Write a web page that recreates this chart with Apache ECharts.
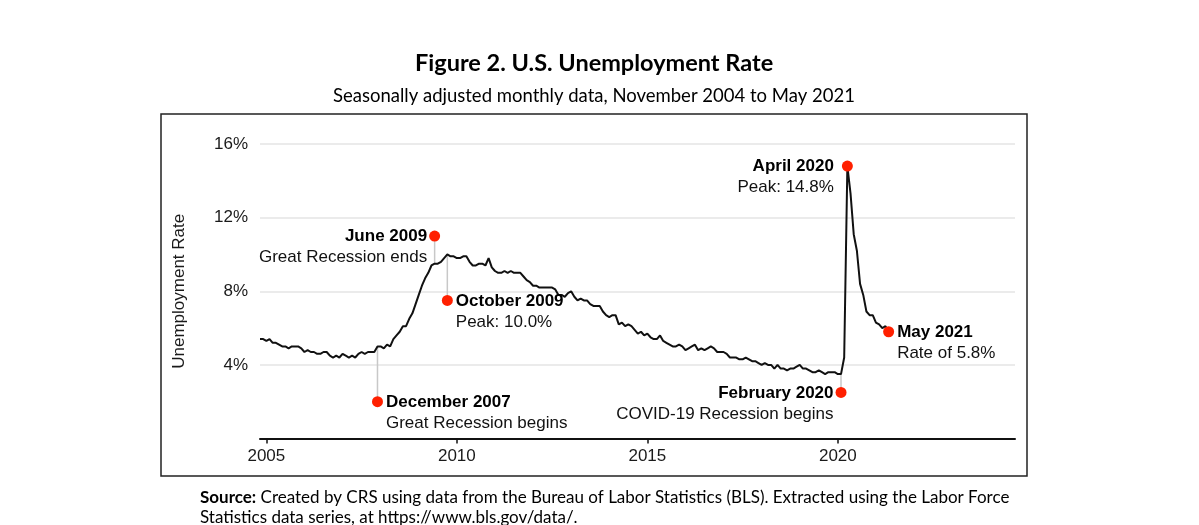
<!DOCTYPE html>
<html>
<head>
<meta charset="utf-8">
<title>U.S. Unemployment Rate</title>
<script src="https://cdn.jsdelivr.net/npm/echarts@6/dist/echarts.min.js"></script>
<style>
  html, body { margin: 0; padding: 0; background: #fff; }
  #chart { width: 1199px; height: 525px; }
</style>
</head>
<body>
<div id="chart"></div>
<script>
// monthly series starts November 2004
const startYear = 2004
const startMonth = 11
const unemploymentRate = [
  5.4, 5.4,
  5.3, 5.4, 5.2, 5.2, 5.1, 5.0, 5.0, 4.9, 5.0, 5.0, 5.0, 4.9,
  4.7, 4.8, 4.7, 4.7, 4.6, 4.6, 4.7, 4.7, 4.5, 4.4, 4.5, 4.4,
  4.6, 4.5, 4.4, 4.5, 4.4, 4.6, 4.7, 4.6, 4.7, 4.7, 4.7, 5.0,
  5.0, 4.9, 5.1, 5.0, 5.4, 5.6, 5.8, 6.1, 6.1, 6.5, 6.8, 7.3,
  7.8, 8.3, 8.7, 9.0, 9.4, 9.5, 9.5, 9.6, 9.8, 10.0, 9.9, 9.9,
  9.8, 9.8, 9.9, 9.9, 9.6, 9.4, 9.4, 9.5, 9.5, 9.4, 9.8, 9.3,
  9.1, 9.0, 9.0, 9.1, 9.0, 9.1, 9.0, 9.0, 9.0, 8.8, 8.6, 8.5,
  8.3, 8.3, 8.2, 8.2, 8.2, 8.2, 8.2, 8.1, 7.8, 7.8, 7.7, 7.9,
  8.0, 7.7, 7.5, 7.6, 7.5, 7.5, 7.3, 7.2, 7.2, 7.2, 6.9, 6.7,
  6.6, 6.7, 6.7, 6.2, 6.3, 6.1, 6.2, 6.1, 5.9, 5.7, 5.8, 5.6,
  5.7, 5.5, 5.4, 5.4, 5.6, 5.3, 5.2, 5.1, 5.0, 5.0, 5.1, 5.0,
  4.8, 4.9, 5.0, 5.1, 4.8, 4.9, 4.8, 4.9, 5.0, 4.9, 4.7, 4.7,
  4.7, 4.6, 4.4, 4.4, 4.4, 4.3, 4.3, 4.4, 4.3, 4.2, 4.2, 4.1,
  4.0, 4.1, 4.0, 4.0, 3.8, 4.0, 3.8, 3.8, 3.7, 3.8, 3.8, 3.9,
  4.0, 3.8, 3.8, 3.7, 3.6, 3.6, 3.7, 3.6, 3.5, 3.6, 3.6, 3.6,
  3.5, 3.5, 4.4, 14.8, 13.3, 11.1, 10.2, 8.4, 7.8, 6.9, 6.7, 6.7,
  6.3, 6.2, 6.0, 6.1, 5.8
]

const yearTicks = [2005, 2010, 2015, 2020]
const rateTicks = [4, 8, 12, 16]

// annotated months: [year, month]
const noteDates = [[2007, 12], [2009, 6], [2009, 10], [2020, 2], [2020, 4], [2021, 5]]
const noteDotValues = [2.0, 11.0, 7.5, 2.5, 14.8, 5.8]
const noteTitles = ['December 2007', 'June 2009', 'October 2009', 'February 2020', 'April 2020', 'May 2021']
const noteTexts = ['Great Recession begins', 'Great Recession ends', 'Peak: 10.0%', 'COVID-19 Recession begins', 'Peak: 14.8%', 'Rate of 5.8%']

// which side of the dot each note sits on
const noteSide = ['right', 'left', 'right', 'left', 'left', 'right']
const noteGap = [3, 2, 3, 2, 8, 3]

const FONT = '"Liberation Sans", Arial, sans-serif'
const TITLE_FONT = 'Lato, "Open Sans", sans-serif'

function toYear(y, m) {
  return y + (m - 1) / 12
}

function rateAt(y, m) {
  let idx = (y - startYear) * 12 + (m - startMonth)
  return unemploymentRate[idx]
}

let lineData = unemploymentRate.map((v, i) => {
  let k = startMonth - 1 + i
  return [startYear + k / 12, v]
})

// grey leader lines between the curve and the dots
let leaders = []
noteDates.forEach((d, i) => {
  let r = rateAt(d[0], d[1])
  if (Math.abs(r - noteDotValues[i]) > 0.05) {
    leaders.push({
      type: 'line',
      silent: true,
      symbol: 'none',
      z: 1,
      lineStyle: {color: '#c8c8c8', width: 1.5},
      data: [[toYear(d[0], d[1]), r], [toYear(d[0], d[1]), noteDotValues[i]]]
    })
  }
})

let dots = noteDates.map((d, i) => {
  let left = noteSide[i] === 'left'
  return {
    value: [toYear(d[0], d[1]), noteDotValues[i]],
    label: {
      show: true,
      position: noteSide[i],
      distance: noteGap[i],
      offset: [0, 11],
      align: left ? 'right' : 'left',
      color: '#000',
      opacity: 1,
      textBorderWidth: 0,
      formatter: '{t|' + noteTitles[i] + '}\n{n|' + noteTexts[i] + '}',
      rich: {
        t: {fontFamily: FONT, fontSize: 17, fontWeight: 'bold', color: '#000', lineHeight: 21, align: left ? 'right' : 'left'},
        n: {fontFamily: FONT, fontSize: 17, color: '#111', lineHeight: 21, align: left ? 'right' : 'left'}
      }
    }
  }
})

let chart = echarts.init(document.getElementById('chart'))

let option = {
  animation: false,
  backgroundColor: '#fff',
  title: [
    {
      text: 'Figure 2. U.S. Unemployment Rate',
      left: 410,
      top: 46,
      textStyle: {fontFamily: TITLE_FONT, fontSize: 23.5, fontWeight: 'bold', color: '#000'}
    },
    {
      text: 'Seasonally adjusted monthly data, November 2004 to May 2021',
      left: 328,
      top: 82,
      textStyle: {fontFamily: TITLE_FONT, fontSize: 18.5, fontWeight: 'normal', color: '#000'}
    }
  ],
  graphic: [
    {
      type: 'rect',
      silent: true,
      shape: {x: 161, y: 114, width: 866, height: 362},
      style: {fill: 'none', stroke: '#222', lineWidth: 1.5}
    },
    {
      type: 'text',
      left: 200,
      top: 488,
      silent: true,
      style: {
        text: '{b|Source:} Created by CRS using data from the Bureau of Labor Statistics (BLS). Extracted using the Labor Force\nStatistics data series, at https://www.bls.gov/data/.',
        fontFamily: TITLE_FONT,
        fontSize: 17,
        lineHeight: 20,
        fill: '#000',
        rich: {
          b: {fontFamily: TITLE_FONT, fontSize: 17, fontWeight: 'bold', fill: '#000', lineHeight: 20}
        }
      }
    }
  ],
  grid: {left: 260, right: 184, top: 144, bottom: 86.5},
  xAxis: {
    type: 'value',
    min: 2004.833,
    max: 2024.65,
    splitLine: {show: false},
    axisLine: {show: true, lineStyle: {color: '#111', width: 2}},
    axisTick: {show: true, customValues: yearTicks, length: 5, lineStyle: {color: '#111', width: 1.5}},
    axisLabel: {
      customValues: yearTicks,
      formatter: v => String(v),
      fontFamily: FONT, fontSize: 17, color: '#1a1a1a', margin: 9
    }
  },
  yAxis: {
    type: 'value',
    min: 0,
    max: 16,
    interval: 4,
    name: 'Unemployment Rate',
    nameLocation: 'middle',
    nameRotate: 90,
    nameGap: 72,
    nameTextStyle: {fontFamily: FONT, fontSize: 17, color: '#1a1a1a'},
    axisLine: {show: false},
    axisTick: {show: false},
    axisLabel: {
      customValues: rateTicks,
      formatter: v => v + '%',
      fontFamily: FONT, fontSize: 17, color: '#1a1a1a', margin: 12
    },
    splitLine: {show: true, lineStyle: {color: '#e4e4e4', width: 1.5}}
  },
  series: [
    ...leaders,
    {
      type: 'line',
      name: 'Unemployment rate',
      data: lineData,
      showSymbol: false,
      silent: true,
      z: 3,
      lineStyle: {color: '#111', width: 2}
    },
    {
      type: 'scatter',
      data: dots,
      symbolSize: 11,
      z: 4,
      itemStyle: {color: '#ff2000', opacity: 1}
    }
  ]
}

chart.setOption(option)
</script>
</body>
</html>
